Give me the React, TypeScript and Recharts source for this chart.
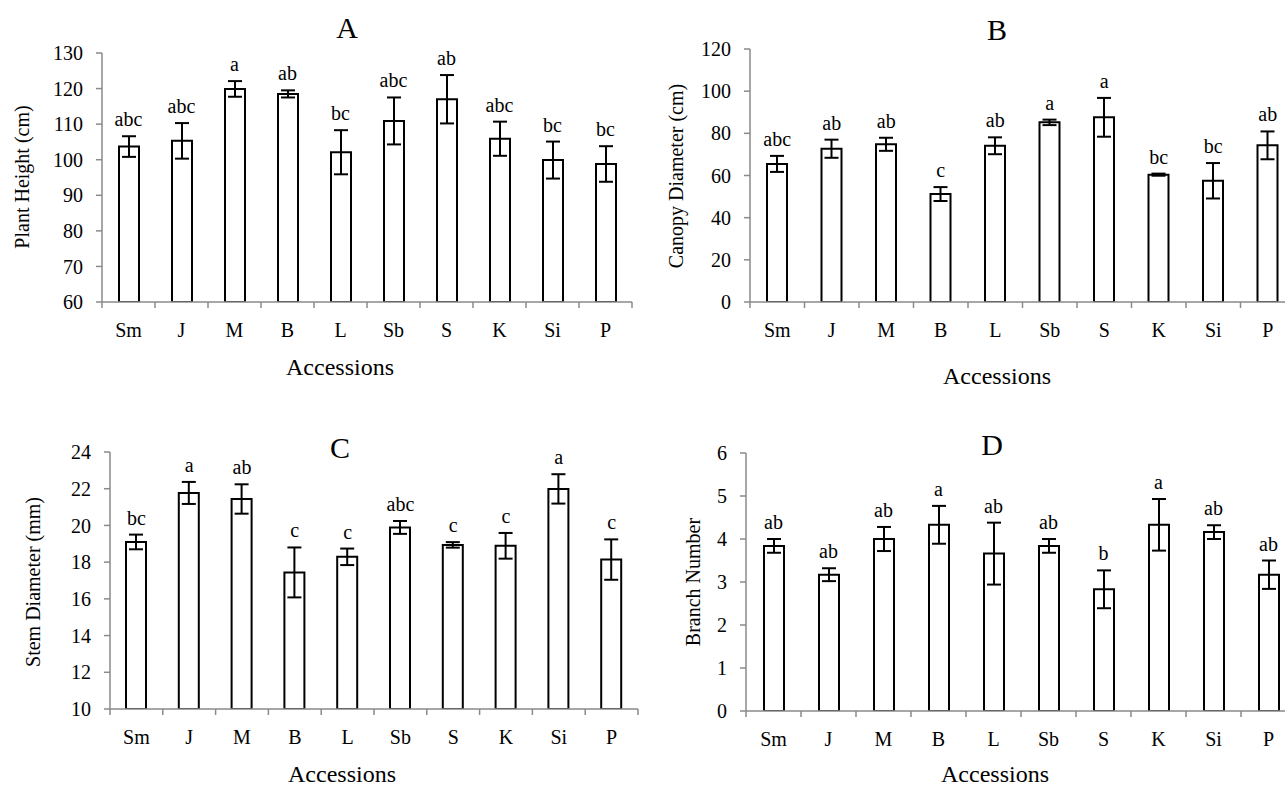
import { ComposedChart, Bar, Line, ErrorBar, LabelList, XAxis, YAxis } from "recharts";

const accessions = ["Sm", "J", "M", "B", "L", "Sb", "S", "K", "Si", "P"];

const heightMean = [103.7, 105.3, 119.9, 118.5, 102.1, 110.9, 117.0, 105.9, 99.9, 98.8];
const heightSe = [2.9, 5.0, 2.2, 1.0, 6.2, 6.6, 6.8, 4.8, 5.2, 5.0];
const heightLetters = ["abc", "abc", "a", "ab", "bc", "abc", "ab", "abc", "bc", "bc"];
const heightTicks = [60, 70, 80, 90, 100, 110, 120, 130];

const canopyMean = [65.5, 72.7, 74.8, 51.2, 74.1, 85.2, 87.6, 60.4, 57.5, 74.3];
const canopySe = [3.8, 4.3, 3.1, 3.3, 4.0, 1.3, 9.2, 0.5, 8.4, 6.6];
const canopyLetters = ["abc", "ab", "ab", "c", "ab", "a", "a", "bc", "bc", "ab"];
const canopyTicks = [0, 20, 40, 60, 80, 100, 120];

const stemMean = [19.1, 21.77, 21.44, 17.44, 18.29, 19.89, 18.94, 18.89, 21.99, 18.14];
const stemSe = [0.4, 0.6, 0.8, 1.36, 0.45, 0.35, 0.15, 0.7, 0.8, 1.1];
const stemLetters = ["bc", "a", "ab", "c", "c", "abc", "c", "c", "a", "c"];
const stemTicks = [10, 12, 14, 16, 18, 20, 22, 24];

const branchMean = [3.84, 3.17, 4.0, 4.33, 3.66, 3.84, 2.83, 4.33, 4.16, 3.17];
const branchSe = [0.16, 0.15, 0.28, 0.44, 0.72, 0.16, 0.44, 0.6, 0.16, 0.33];
const branchLetters = ["ab", "ab", "ab", "a", "ab", "ab", "b", "a", "ab", "ab"];
const branchTicks = [0, 1, 2, 3, 4, 5, 6];

const FONT = '"Liberation Serif", "Times New Roman", serif';
const AXIS = "#8a8a8a";

function build(mean: number[], se: number[], letters: string[]) {
  return accessions.map((name, i) => ({
    name,
    mean: mean[i],
    se: se[i],
    top: mean[i] + se[i],
    letter: letters[i],
  }));
}

function CatTick(props: any) {
  const { x, y, payload, index } = props;
  const off = payload.offset ?? 0;
  return (
    <g>
      <line x1={x - off} x2={x - off} y1={y} y2={y + 6} stroke={AXIS} strokeWidth={1.5} />
      {index === accessions.length - 1 && (
        <line x1={x + off} x2={x + off} y1={y} y2={y + 6} stroke={AXIS} strokeWidth={1.5} />
      )}
      <text x={x} y={y + 35} textAnchor="middle" fontSize={20} fontFamily={FONT} fill="#000">
        {payload.value}
      </text>
    </g>
  );
}

interface PanelProps {
  left: number;
  top: number;
  width: number;
  height: number;
  yWidth: number;
  margin: { top: number; right: number; left: number; bottom: number };
  data: ReturnType<typeof build>;
  ticks: number[];
}

function Panel({ left, top, width, height, yWidth, margin, data, ticks }: PanelProps) {
  return (
    <div style={{ position: "absolute", left, top, width, height }}>
      <ComposedChart width={width} height={height} data={data} margin={margin} barSize={20}>
        <XAxis
          dataKey="name"
          height={40}
          tickSize={0}
          tickMargin={0}
          tickLine={false}
          axisLine={{ stroke: AXIS, strokeWidth: 1.5 }}
          tick={<CatTick />}
          interval={0}
        />
        <YAxis
          width={yWidth}
          domain={[ticks[0], ticks[ticks.length - 1]]}
          ticks={ticks}
          interval={0}
          allowDataOverflow
          tickSize={6}
          tickMargin={13}
          axisLine={{ stroke: AXIS, strokeWidth: 1.5 }}
          tickLine={{ stroke: AXIS, strokeWidth: 1.5 }}
          tick={{ fontSize: 20, fontFamily: FONT, fill: "#000" }}
        />
        <Bar dataKey="mean" fill="#fff" stroke="#000" strokeWidth={2} isAnimationActive={false}>
          <ErrorBar dataKey="se" width={7} stroke="#000" strokeWidth={2} direction="y" />
        </Bar>
        <Line
          dataKey="top"
          stroke="none"
          dot={false}
          activeDot={false}
          legendType="none"
          isAnimationActive={false}
        >
          <LabelList
            dataKey="letter"
            position="top"
            offset={10}
            fontSize={20}
            fontFamily={FONT}
            fill="#000"
          />
        </Line>
      </ComposedChart>
    </div>
  );
}

const panels = [
  {
    key: "A",
    left: 0, top: 0, width: 640, height: 400, yWidth: 102,
    margin: { top: 53, right: 8, left: 0, bottom: 58 },
    data: build(heightMean, heightSe, heightLetters), ticks: heightTicks,
  },
  {
    key: "B",
    left: 640, top: 0, width: 660, height: 400, yWidth: 110,
    margin: { top: 49, right: 5, left: 0, bottom: 58 },
    data: build(canopyMean, canopySe, canopyLetters), ticks: canopyTicks,
  },
  {
    key: "C",
    left: 0, top: 400, width: 640, height: 387, yWidth: 110,
    margin: { top: 52, right: 2, left: 0, bottom: 38 },
    data: build(stemMean, stemSe, stemLetters), ticks: stemTicks,
  },
  {
    key: "D",
    left: 640, top: 400, width: 660, height: 387, yWidth: 106,
    margin: { top: 53, right: 4, left: 0, bottom: 36 },
    data: build(branchMean, branchSe, branchLetters), ticks: branchTicks,
  },
];

// titles and axis titles
const titles = [
  { t: "A", x: 347, y: 38 },
  { t: "B", x: 997, y: 40 },
  { t: "C", x: 340, y: 458 },
  { t: "D", x: 992, y: 455 },
];
const xTitles = [
  { x: 340, y: 375 },
  { x: 997, y: 384 },
  { x: 342, y: 782 },
  { x: 995, y: 782 },
];
const yTitles = [
  { t: "Plant Height (cm)", x: 22, y: 177 },
  { t: "Canopy Diameter (cm)", x: 676, y: 176 },
  { t: "Stem Diameter (mm)", x: 33, y: 582 },
  { t: "Branch Number", x: 693, y: 582 },
];

export default function App() {
  return (
    <div
      style={{
        position: "absolute",
        left: 0,
        top: 0,
        width: 1285,
        height: 787,
        overflow: "hidden",
        background: "#fff",
        fontFamily: FONT,
      }}
    >
      {panels.map(({ key, ...p }) => (
        <Panel key={key} {...p} />
      ))}
      <svg
        width={1285}
        height={787}
        style={{ position: "absolute", left: 0, top: 0, pointerEvents: "none" }}
      >
        {titles.map((d) => (
          <text key={d.t} x={d.x} y={d.y} textAnchor="middle" fontSize={30} fontFamily={FONT}>
            {d.t}
          </text>
        ))}
        {xTitles.map((d, i) => (
          <text key={i} x={d.x} y={d.y} textAnchor="middle" fontSize={24} fontFamily={FONT}>
            Accessions
          </text>
        ))}
        {yTitles.map((d) => (
          <text
            key={d.t}
            x={d.x}
            y={d.y}
            textAnchor="middle"
            dominantBaseline="central"
            fontSize={20}
            fontFamily={FONT}
            transform={`rotate(-90 ${d.x} ${d.y})`}
          >
            {d.t}
          </text>
        ))}
      </svg>
    </div>
  );
}
